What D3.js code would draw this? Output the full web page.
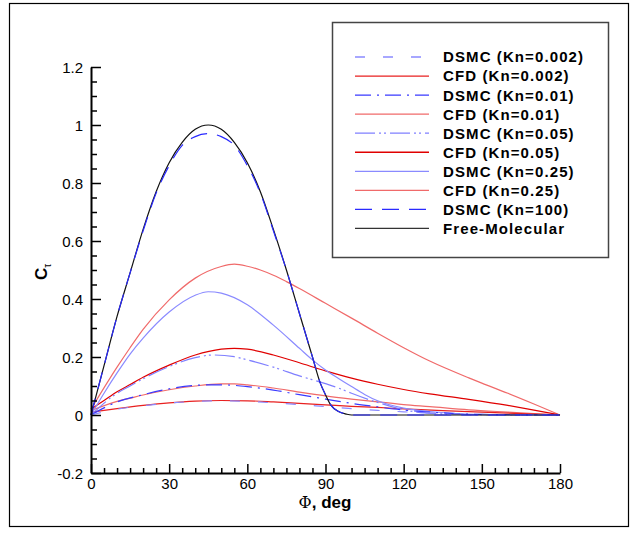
<!DOCTYPE html>
<html><head><meta charset="utf-8">
<script src="https://cdn.jsdelivr.net/npm/d3@7"></script>
<style>
body{margin:0;background:#fff;}
svg{display:block;}
text{font-family:"Liberation Sans",Arial,sans-serif;}
</style></head>
<body>
<svg id="c" width="635" height="533"></svg>
<script>
// ---------- DATA ----------
const xTicks = [0, 30, 60, 90, 120, 150, 180];
const yTicks = [-0.2, 0, 0.2, 0.4, 0.6, 0.8, 1, 1.2];

const phiDsmc002 = [0,10,20,30,40,50,60,70,80,90,100,110,120,130,140,160,180];
const valDsmc002 = [0,0.02,0.032,0.041,0.047,0.049,0.047,0.042,0.036,0.029,0.022,0.016,0.011,0.007,0.004,0.001,0];

const phiCfd002 = [0,10,20,30,40,50,60,70,80,90,100,110,120,135,150,165,180];
const valCfd002 = [0.01,0.022,0.033,0.042,0.048,0.05,0.049,0.045,0.04,0.035,0.03,0.026,0.021,0.015,0.01,0.005,0];

const phiDsmc01 = [0,10,20,30,40,45,50,60,70,80,90,100,110,120,130,140,150,180];
const valDsmc01 = [0,0.045,0.07,0.09,0.102,0.104,0.104,0.098,0.086,0.07,0.055,0.04,0.028,0.017,0.01,0.005,0.002,0];

const phiCfd01 = [0,10,15,20,30,40,50,55,60,70,80,90,100,110,120,130,145,160,180];
const valCfd01 = [0.015,0.047,0.058,0.069,0.087,0.1,0.107,0.107,0.104,0.093,0.079,0.066,0.055,0.045,0.036,0.029,0.018,0.01,0];

const phiDsmc05 = [0,10,15,20,30,40,47,55,60,70,80,90,95,100,107,115,125,135,150,180];
const valDsmc05 = [0,0.075,0.1,0.125,0.167,0.198,0.207,0.201,0.19,0.165,0.135,0.108,0.093,0.075,0.052,0.03,0.01,0.004,0.001,0];

const phiCfd05 = [0,5,10,15,20,30,40,50,55,60,70,80,90,100,110,120,130,145,160,170,180];
const valCfd05 = [0.02,0.05,0.08,0.105,0.13,0.172,0.207,0.227,0.23,0.227,0.207,0.18,0.152,0.127,0.106,0.088,0.073,0.054,0.033,0.017,0];

const phiDsmc25 = [0,5,10,15,20,30,40,45,50,60,70,80,85,90,95,100,105,110,120,130,140,155,180];
const valDsmc25 = [0,0.075,0.145,0.21,0.265,0.355,0.413,0.425,0.42,0.38,0.31,0.23,0.19,0.155,0.126,0.098,0.071,0.049,0.024,0.012,0.005,0.001,0];

const phiCfd25 = [0,10,15,20,30,40,50,55,60,65,70,75,80,90,100,110,120,130,145,150,160,170,180];
const valCfd25 = [0.02,0.165,0.232,0.295,0.397,0.472,0.512,0.52,0.513,0.5,0.482,0.46,0.436,0.385,0.334,0.282,0.232,0.186,0.128,0.11,0.075,0.038,0];

const phiDsmc100 = [0,5,10,15,20,25,30,35,40,45,50,55,60,65,70,75,80,85,88,90,92,95,98,100,110,180];
const valDsmc100 = [0,0.17,0.34,0.49,0.635,0.765,0.86,0.93,0.96,0.97,0.96,0.93,0.86,0.765,0.635,0.5,0.35,0.2,0.11,0.07,0.035,0.012,0.003,0,0,0];

const phiFm = [0,5,10,15,20,25,30,35,40,45,50,55,60,65,70,75,80,85,88,90,92,95,98,100,110,180];
const valFm = [0,0.17,0.34,0.49,0.64,0.77,0.87,0.94,0.985,1.0,0.985,0.94,0.87,0.77,0.64,0.5,0.35,0.2,0.11,0.07,0.035,0.012,0.003,0,0,0];

const seriesNames = ["DSMC (Kn=0.002)","CFD (Kn=0.002)","DSMC (Kn=0.01)","CFD (Kn=0.01)","DSMC (Kn=0.05)","CFD (Kn=0.05)","DSMC (Kn=0.25)","CFD (Kn=0.25)","DSMC (Kn=100)","Free-Molecular"];

// ---------- STYLES ----------
const styles = [
  {color:"#8a8aff", dash:"10,18", w:1.2},
  {color:"#e82020", dash:null, w:1.2},
  {color:"#3a3aff", dash:"16,6,2,6", w:1.2},
  {color:"#f06a6a", dash:null, w:1.2},
  {color:"#8080ff", dash:"20,4,2,3,2,4", w:1.2},
  {color:"#e00000", dash:null, w:1.2},
  {color:"#8a8aff", dash:null, w:1.2},
  {color:"#f06a6a", dash:null, w:1.2},
  {color:"#2a2aff", dash:"17,10", w:1.2},
  {color:"#333333", dash:null, w:1.2}
];
const seriesData = [
  [phiDsmc002,valDsmc002],[phiCfd002,valCfd002],[phiDsmc01,valDsmc01],[phiCfd01,valCfd01],
  [phiDsmc05,valDsmc05],[phiCfd05,valCfd05],[phiDsmc25,valDsmc25],[phiCfd25,valCfd25],
  [phiDsmc100,valDsmc100],[phiFm,valFm]
];

const svg = d3.select("#c");
svg.append("rect").attr("x",9.5).attr("y",3.5).attr("width",619).attr("height",523)
  .attr("fill","#fff").attr("stroke","#000").attr("stroke-width",1.2);

const x = d3.scaleLinear().domain([0,180]).range([91,560]);
const y = d3.scaleLinear().domain([-0.2,1.2]).range([473,67]);

// curves
const line = d3.line().x(d=>x(d[0])).y(d=>y(d[1])).curve(d3.curveMonotoneX);
const drawOrder = [7,5,3,1,6,4,2,0,9,8];
drawOrder.forEach(i=>{
  const pts = seriesData[i][0].map((p,k)=>[p, seriesData[i][1][k]]);
  const st = styles[i];
  const path = svg.append("path").datum(pts).attr("d",line)
    .attr("fill","none").attr("stroke", i===9 ? "#111" : st.color).attr("stroke-width",st.w);
  if(st.dash) path.attr("stroke-dasharray",st.dash);
});

// axes
const fmt = d => d===0 ? "0" : String(+d.toFixed(1));
const yMinor = d3.range(-0.2,1.2001,0.05).map(v=>+v.toFixed(2)).filter(v=>!yTicks.some(t=>Math.abs(t-v)<1e-6));
const xMinor = d3.range(0,181,5).filter(v=>!xTicks.includes(v));

const gy = svg.append("g").attr("transform","translate(91,0)")
  .call(d3.axisLeft(y).tickValues(yTicks).tickFormat(fmt).tickSizeInner(-10).tickSizeOuter(0).tickPadding(18));
const gyMinor = svg.append("g").attr("transform","translate(91,0)")
  .call(d3.axisLeft(y).tickValues(yMinor).tickFormat("").tickSizeInner(-6).tickSizeOuter(0));
gyMinor.select(".domain").remove();
const gx = svg.append("g").attr("transform","translate(0,473)")
  .call(d3.axisBottom(x).tickValues(xTicks).tickFormat(d3.format("d")).tickSizeInner(-9).tickSizeOuter(0).tickPadding(17));
const gxMinor = svg.append("g").attr("transform","translate(0,473)")
  .call(d3.axisBottom(x).tickValues(xMinor).tickFormat("").tickSizeInner(-5).tickSizeOuter(0));
gxMinor.select(".domain").remove();

[gy,gx,gyMinor,gxMinor].forEach(g=>{
  g.selectAll("line").attr("stroke","#000").attr("stroke-width",1.5);
  g.selectAll(".domain").attr("stroke","#000").attr("stroke-width",2);
  g.selectAll("text").attr("fill","#000").style("font-size","15px").style("font-family","'Liberation Sans',Arial,sans-serif");
});
gy.selectAll("text").attr("x",-8).attr("dy","0.36em");
gx.selectAll("text").attr("y",5).attr("dy","0.71em");

// axis titles
const xt = svg.append("text").attr("x",325).attr("y",508).attr("text-anchor","middle")
  .style("font-size","17px").style("font-weight","bold");
xt.append("tspan").text("Φ").style("font-family","'DejaVu Serif','Liberation Serif',serif").style("font-weight","normal").style("font-size","16px");
xt.append("tspan").text(", deg");

const yt = svg.append("text").attr("transform","translate(47,280) rotate(-90)")
  .style("font-size","17px").style("font-weight","bold");
yt.append("tspan").text("C");
yt.append("tspan").text("τ").attr("dy",4).style("font-size","10px").style("font-weight","normal");

// legend
const lg = svg.append("g");
lg.append("rect").attr("x",332.5).attr("y",22.5).attr("width",276).attr("height",235)
  .attr("fill","#fff").attr("stroke","#444").attr("stroke-width",1.5);
seriesNames.forEach((n,i)=>{
  const cy = 57 + i*19.05;
  const st = styles[i];
  const l = lg.append("line").attr("x1",355).attr("x2",429).attr("y1",cy).attr("y2",cy)
    .attr("stroke",st.color).attr("stroke-width",1.3);
  if(st.dash) l.attr("stroke-dasharray",st.dash);
  lg.append("text").attr("x",443).attr("y",cy).attr("dy","0.36em").text(n)
    .style("font-size","15px").style("font-weight","bold").style("letter-spacing","1.1px").attr("fill","#000");
});
</script>
</body></html>
